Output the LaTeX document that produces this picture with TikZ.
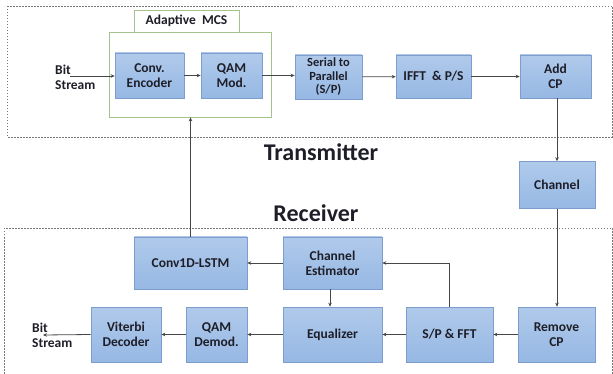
\documentclass[tikz,border=0pt]{standalone}
\usepackage{fontspec}
\setmainfont{Carlito}
\usetikzlibrary{arrows.meta}
\definecolor{boxfill}{RGB}{150,184,228}
\definecolor{boxedge}{RGB}{125,158,205}
\definecolor{mcsgreen}{RGB}{165,195,140}
\definecolor{linec}{RGB}{70,70,70}
\definecolor{dashc}{RGB}{120,120,120}
\definecolor{txtc}{RGB}{30,30,40}
\tikzset{
  blk/.style={draw=boxedge, line width=0.6pt, top color=boxfill!75!white, bottom color=boxfill, rectangle, align=center, text=txtc, font=\fontsize{13.5}{15}\selectfont\bfseries, inner sep=1pt},
  arr/.style={draw=linec, line width=0.8pt, -{Stealth[length=4pt,width=3.5pt]}},
  region/.style={draw=dashc, dashed, dash pattern=on 1.5pt off 1.5pt, line width=0.6pt},
  lbl/.style={font=\fontsize{13.5}{15}\selectfont\bfseries, text=txtc, align=left, inner sep=0pt},
  title/.style={font=\fontsize{24}{26}\selectfont\bfseries, text=txtc, inner sep=0pt}
}
\begin{document}
\begin{tikzpicture}[x=1pt,y=-1pt]
\useasboundingbox (0,0) rectangle (613,374);
\begin{scope}
\clip (0,0) rectangle (613,374);
\draw[region] (7,6) rectangle (612,137);
\draw[region] (4,228) rectangle (612,390);
\end{scope}
% Adaptive MCS
\node[draw=mcsgreen, line width=0.7pt, minimum width=162pt, minimum height=85pt, inner sep=0pt] (mcs) at (190,74.5) {};
\node[draw=mcsgreen, line width=0.7pt, fill=white, minimum width=105pt, minimum height=22pt, inner sep=0pt, text=txtc, font=\fontsize{13.5}{15}\selectfont\bfseries] (mcslbl) at (186.5,21) {Adaptive\ \ MCS};
% transmitter blocks
\node[blk, minimum width=69pt, minimum height=45pt] (enc) at (149.5,75.5) {Conv.\\Encoder};
\node[blk, minimum width=61pt, minimum height=45pt] (qam) at (231.5,75.5) {QAM\\Mod.};
\node[blk, minimum width=67pt, minimum height=44pt, font=\fontsize{12.5}{13.5}\selectfont\bfseries] (sp) at (328.5,77) {Serial to\\Parallel\\(S/P)};
\node[blk, minimum width=75pt, minimum height=43pt] (ifft) at (433.5,76.5) {IFFT\ \ \& P/S};
\node[blk, minimum width=71pt, minimum height=43pt] (addcp) at (555.5,76.5) {Add\\CP};
\node[blk, minimum width=76pt, minimum height=47pt] (chan) at (557,185) {Channel};
% receiver blocks
\node[blk, minimum width=113pt, minimum height=52pt] (lstm) at (190.5,263) {Conv1D-LSTM};
\node[blk, minimum width=99pt, minimum height=52pt] (est) at (332.5,263) {Channel\\Estimator};
\node[blk, minimum width=99pt, minimum height=55pt] (eq) at (332.5,334.5) {Equalizer};
\node[blk, minimum width=87pt, minimum height=55pt] (fft) at (449.5,334.5) {S/P \& FFT};
\node[blk, minimum width=77pt, minimum height=55pt] (rmcp) at (556.5,334.5) {Remove\\CP};
\node[blk, minimum width=61pt, minimum height=55pt] (demod) at (216.5,334.5) {QAM\\Demod.};
\node[blk, minimum width=70pt, minimum height=55pt] (vit) at (126,334.5) {Viterbi\\Decoder};
% titles
\node[title] (tx) at (321,152) {Transmitter};
\node[title] (rx) at (316,213) {Receiver};
% bit streams
\node[lbl, anchor=west] (bitin) at (55,77) {Bit\\Stream};
\node[lbl, anchor=west] (bitout) at (32,335) {Bit\\Stream};
\coordinate (inS) at (70,76);
\coordinate (outE) at (43,335);
% arrows
\draw[arr] (inS) -- (enc.west |- inS);
\draw[arr] (enc) -- (qam);
\draw[arr] (qam.east) -- (sp.west |- qam.east);
\draw[arr] (sp) -- (ifft);
\draw[arr] (ifft) -- (addcp);
\draw[arr] (addcp.south -| chan.north) -- (chan.north);
\draw[arr] (chan.south) -- (rmcp.north -| chan.south);
\draw[arr] (rmcp) -- (fft);
\draw[arr] (fft) -- (eq);
\draw[arr] (eq) -- (demod);
\draw[arr] (demod) -- (vit);
\draw[arr] (vit.west) -- (outE);
\draw[arr] (fft.north) -- (fft.north |- est.east) -- (est.east);
\draw[arr] (est.south -| eq.north) ++(-2.5,0) coordinate (e1) -- (e1 |- eq.north);
\draw[arr] (est) -- (lstm);
\draw[arr] (lstm.north) -- (mcs.south -| lstm.north);
\end{tikzpicture}
\end{document}
